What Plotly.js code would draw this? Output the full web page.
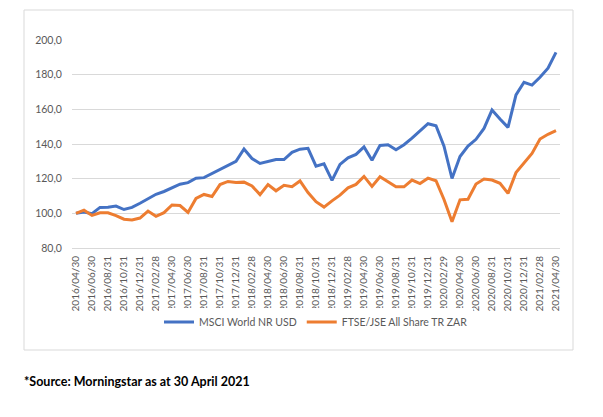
<!DOCTYPE html>
<html>
<head>
<meta charset="utf-8">
<script src="https://cdn.plot.ly/plotly-3.0.1.min.js"></script>
<style>html,body{margin:0;padding:0;background:#fff;}#chart{width:603px;height:417px;}</style>
</head>
<body>
<div id="chart"></div>
<script>
var dates = [
"2016/04/30","2016/05/31","2016/06/30","2016/07/31","2016/08/31","2016/09/30","2016/10/31","2016/11/30","2016/12/31",
"2017/01/31","2017/02/28","2017/03/31","2017/04/30","2017/05/31","2017/06/30","2017/07/31","2017/08/31","2017/09/30","2017/10/31","2017/11/30","2017/12/31",
"2018/01/31","2018/02/28","2018/03/31","2018/04/30","2018/05/31","2018/06/30","2018/07/31","2018/08/31","2018/09/30","2018/10/31","2018/11/30","2018/12/31",
"2019/01/31","2019/02/28","2019/03/31","2019/04/30","2019/05/31","2019/06/30","2019/07/31","2019/08/31","2019/09/30","2019/10/31","2019/11/30","2019/12/31",
"2020/01/31","2020/02/29","2020/03/31","2020/04/30","2020/05/31","2020/06/30","2020/07/31","2020/08/31","2020/09/30","2020/10/31","2020/11/30","2020/12/31",
"2021/01/31","2021/02/28","2021/03/31","2021/04/30"
];
var msciWorld = [
100.0,100.8,99.8,103.4,103.5,104.2,102.2,103.4,105.8,
108.3,111.0,112.6,114.5,116.8,117.7,120.3,120.6,123.0,125.3,128.0,130.0,
137.1,131.6,128.8,130.0,131.0,131.0,135.2,137.0,137.5,127.2,128.6,119.0,
128.2,132.0,134.0,138.3,130.6,139.2,139.6,136.7,139.6,143.4,147.3,151.7,
150.5,138.7,120.1,132.8,138.8,142.7,149.0,159.6,154.4,149.6,168.3,175.6,
174.0,178.5,183.7,192.9
];
var ftseJse = [
100.0,101.8,98.8,100.3,100.3,98.7,96.6,96.2,97.3,
101.3,98.3,100.4,104.8,104.5,100.5,108.6,110.9,109.7,116.6,118.4,117.8,
118.0,115.8,110.8,116.6,113.0,116.2,115.4,118.7,112.0,106.7,103.6,107.2,
110.5,114.7,116.7,121.3,115.5,121.1,118.0,115.3,115.3,119.2,117.2,120.3,
118.8,108.0,95.1,107.8,108.1,116.9,119.8,119.2,117.3,111.5,123.5,128.8,
134.6,142.9,145.6,147.7
];
var seriesNames = ["MSCI World NR USD", "FTSE/JSE All Share TR ZAR"];
var sourceNote = "*Source: Morningstar as at 30 April 2021";

var tickDates = dates.filter(function(d, i){ return i % 2 === 0; });

var traces = [
  {x: dates, y: msciWorld, type: "scatter", mode: "lines", name: seriesNames[0],
   line: {color: "#4472C4", width: 3}},
  {x: dates, y: ftseJse, type: "scatter", mode: "lines", name: seriesNames[1],
   line: {color: "#ED7D31", width: 3}}
];

var L = 72, R = 560, T = 40, B = 248;
function px(x){ return (x - L) / (R - L); }
function py(y){ return (B - y) / (B - T); }

var layout = {
  width: 603, height: 417,
  margin: {l: L, r: 603 - R, t: T, b: 417 - B, pad: 0},
  paper_bgcolor: "#ffffff", plot_bgcolor: "#ffffff",
  separators: ",.",
  font: {family: "Lato, 'Liberation Sans', sans-serif", size: 10, color: "#595959"},
  showlegend: true,
  legend: {orientation: "h", x: 0.5, xanchor: "center", y: py(322), yanchor: "middle",
           font: {size: 10.5, color: "#595959"}, traceorder: "normal", itemwidth: 30},
  xaxis: {type: "category", range: [-0.5, dates.length - 0.5], tickmode: "array",
          tickvals: tickDates, ticktext: tickDates, tickangle: -90, showgrid: false,
          showline: true, linecolor: "#d9d9d9", linewidth: 1, zeroline: false,
          ticks: "outside", ticklen: 3, tickcolor: "rgba(0,0,0,0)",
          tickfont: {size: 10, color: "#595959"}, fixedrange: true},
  yaxis: {range: [80, 200], dtick: 20, tick0: 80, tickformat: ".1f", showgrid: true,
          gridcolor: "#d9d9d9", gridwidth: 1, zeroline: false, showline: false,
          ticks: "outside", ticklen: 7, tickcolor: "rgba(0,0,0,0)",
          tickfont: {size: 10.5, color: "#595959"}, fixedrange: true},
  shapes: [
    {type: "rect", xref: "paper", yref: "paper", x0: px(24), x1: px(573), y0: py(350), y1: py(10),
     line: {color: "#d9d9d9", width: 1}, fillcolor: "rgba(0,0,0,0)", layer: "below"}
  ],
  annotations: [
    {text: "<b>" + sourceNote + "</b>", xref: "paper", yref: "paper", x: px(22), y: py(381),
     xanchor: "left", yanchor: "middle", showarrow: false,
     font: {family: "Lato, 'Liberation Sans', sans-serif", size: 12.5, color: "#000000"}}
  ]
};

Plotly.newPlot("chart", traces, layout, {displayModeBar: false, staticPlot: true});
</script>
</body>
</html>
